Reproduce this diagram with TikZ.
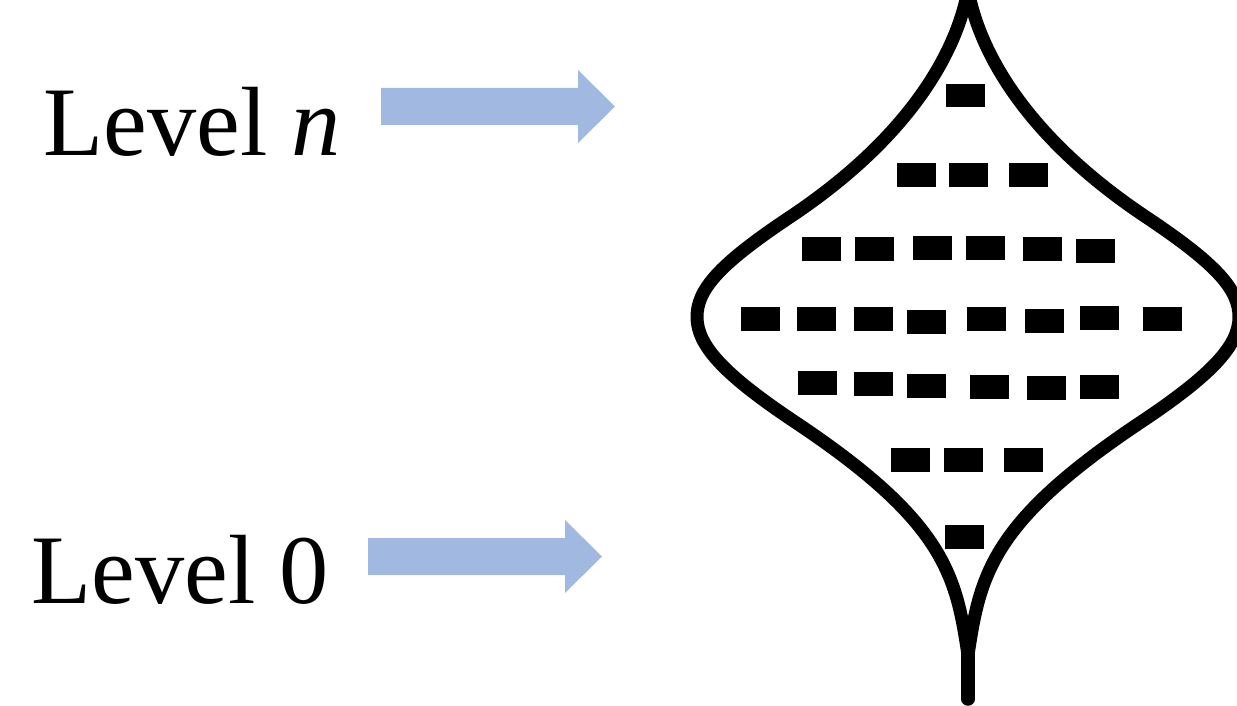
\documentclass[tikz,border=0pt]{standalone}
\usepackage{fontspec}
\setmainfont{Liberation Serif}
\definecolor{arrowblue}{RGB}{161,185,224}
\tikzset{
  bulb/.style={line width=0.26cm, line join=round, line cap=round},
  cellbox/.style={fill=black},
  blockarrow/.style={fill=arrowblue},
  lbl/.style={font=\fontsize{56}{60}\selectfont, inner sep=0pt, anchor=base west}
}
\begin{document}
\begin{tikzpicture}[x=0.02cm,y=-0.02cm]
\useasboundingbox (0,0) rectangle (1237,706);
\clip (0,0) rectangle (1237,706);
% labels
\node[lbl] (ln) at (43,155) {Level \textit{n}};
\node[lbl] (l0) at (31,603) {Level 0};
% block arrows
\fill[blockarrow] (381,88) -- (578,88) -- (578,70) -- (615,106.5) -- (578,143) -- (578,125) -- (381,125) -- cycle;
\fill[blockarrow] (368,538) -- (565,538) -- (565,520) -- (602,556.5) -- (565,593) -- (565,575) -- (368,575) -- cycle;
% bulb outline
\coordinate (top) at (968,-10);
\coordinate (bot) at (968,655);
\coordinate (stemend) at (968,699);
\draw[bulb] (top) .. controls (956,55) and (907,139) .. (790,217)
  .. controls (718,265) and (697,290) .. (697,317)
  .. controls (697,345) and (723,374) .. (795,422)
  .. controls (945,522) and (956,575) .. (bot);
\draw[bulb] (top) .. controls (980,55) and (1029,139) .. (1146,217)
  .. controls (1218,265) and (1239,290) .. (1239,317)
  .. controls (1239,345) and (1213,374) .. (1141,422)
  .. controls (991,522) and (980,575) .. (bot);
\draw[bulb, line width=0.27cm] (bot) -- (stemend);
% cells
\foreach \x/\y in {946/84,
  897/163, 949/163, 1009/163,
  802/237, 855/237, 913/236, 966/236, 1023/237, 1076/239,
  741/307, 797/307, 854/307, 907/310, 967/307, 1025/309, 1080/306, 1143/307,
  798/371, 854/372, 907/374, 970/375, 1027/376, 1080/375,
  891/448, 944/448, 1004/448,
  945/525}
  \fill[cellbox] (\x,\y) rectangle ++(38.5,23.5);
\end{tikzpicture}
\end{document}
